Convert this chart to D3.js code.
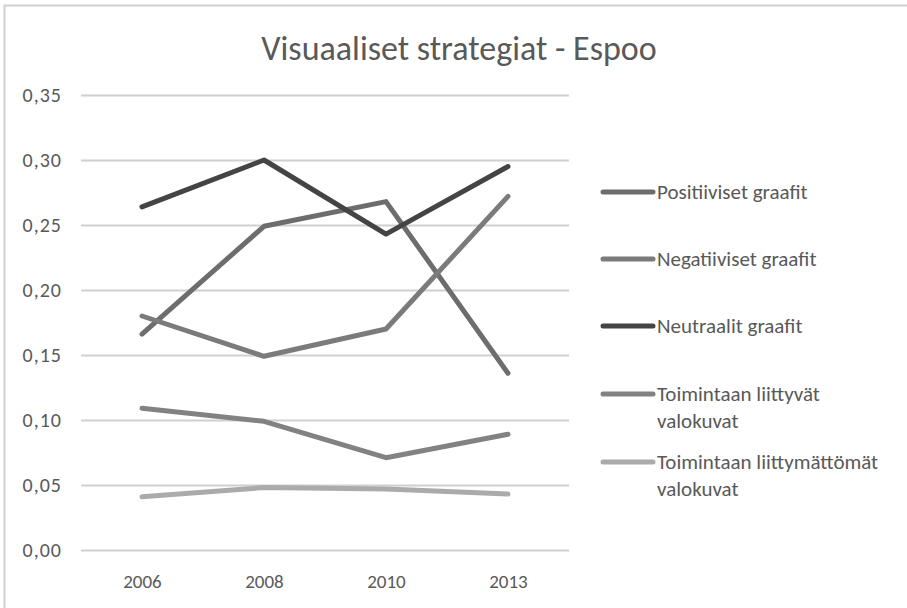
<!DOCTYPE html>
<html>
<head>
<meta charset="utf-8">
<script src="https://cdn.jsdelivr.net/npm/d3@7"></script>
<style>
  body { margin: 0; background: #fff; }
  text { font-family: Carlito, Lato, "Open Sans", sans-serif; fill: #595959; }
</style>
</head>
<body>
<div id="chart"></div>
<script>
// data
var years = ["2006", "2008", "2010", "2013"];
var positiiviset = [0.166, 0.249, 0.268, 0.136];
var negatiiviset = [0.180, 0.149, 0.170, 0.272];
var neutraalit = [0.264, 0.300, 0.243, 0.295];
var toimintaanLiittyvat = [0.109, 0.099, 0.071, 0.089];
var toimintaanLiittymattomat = [0.041, 0.048, 0.047, 0.043];
var yTicks = [0, 0.05, 0.10, 0.15, 0.20, 0.25, 0.30, 0.35];

var series = [
  {name: ["Positiiviset graafit"], values: positiiviset, color: "#6d6d6d"},
  {name: ["Negatiiviset graafit"], values: negatiiviset, color: "#7b7b7b"},
  {name: ["Neutraalit graafit"], values: neutraalit, color: "#444444"},
  {name: ["Toimintaan liittyvät", "valokuvat"], values: toimintaanLiittyvat, color: "#828282"},
  {name: ["Toimintaan liittymättömät", "valokuvat"], values: toimintaanLiittymattomat, color: "#ababab"}
];

var W = 907, H = 608;
var margin = {top: 95, left: 81, right: 338, bottom: 58};
var width = W - margin.left - margin.right,
    height = H - margin.top - margin.bottom;

var svg = d3.select("#chart").append("svg")
    .attr("width", W)
    .attr("height", H);

// outer frame
svg.append("rect")
    .attr("x", 4.5).attr("y", 5.5)
    .attr("width", W + 10).attr("height", H + 10)
    .attr("fill", "none")
    .attr("stroke", "#d0d0d0")
    .attr("stroke-width", 2);

svg.append("text")
    .attr("x", 459)
    .attr("y", 60)
    .attr("text-anchor", "middle")
    .attr("font-size", "34px")
    .text("Visuaaliset strategiat - Espoo");

var g = svg.append("g")
    .attr("transform", "translate(" + margin.left + "," + margin.top + ")");

var x = d3.scalePoint()
    .domain(years)
    .range([0, width])
    .padding(0.5);

var y = d3.scaleLinear()
    .domain([0, 0.35])
    .range([height, 0]);

var fmt = function(d) { return d3.format(".2f")(d).replace(".", ","); };

// y axis with gridlines
var yAxis = g.append("g")
    .call(d3.axisLeft(y).tickValues(yTicks).tickFormat(fmt).tickSize(-width).tickPadding(19));
yAxis.select(".domain").remove();
yAxis.selectAll("line").attr("stroke", "#d0d0d0").attr("stroke-width", 2);
yAxis.selectAll("text").attr("font-size", "20px").attr("letter-spacing", "1px").attr("fill", "#595959");

// x axis
var xAxis = g.append("g")
    .attr("transform", "translate(0," + height + ")")
    .call(d3.axisBottom(x).tickSize(0).tickPadding(25));
xAxis.select(".domain").remove();
xAxis.selectAll("text").attr("font-size", "19px").attr("fill", "#595959");

var line = d3.line()
    .x(function(d, i) { return x(years[i]); })
    .y(function(d) { return y(d); });

g.selectAll(".series")
  .data(series)
  .enter().append("path")
    .attr("class", "series")
    .attr("d", function(d) { return line(d.values); })
    .attr("fill", "none")
    .attr("stroke", function(d) { return d.color; })
    .attr("stroke-width", 5)
    .attr("stroke-linecap", "round")
    .attr("stroke-linejoin", "round");

// legend
var legendY = [192, 259, 326, 394, 462];
var legend = svg.selectAll(".legend")
  .data(series)
  .enter().append("g")
    .attr("class", "legend")
    .attr("transform", function(d, i) { return "translate(603," + legendY[i] + ")"; });

legend.append("line")
    .attr("x1", 0).attr("x2", 50)
    .attr("stroke", function(d) { return d.color; })
    .attr("stroke-width", 5)
    .attr("stroke-linecap", "round");

legend.each(function(d) {
  var t = d3.select(this).append("text")
      .attr("x", 54)
      .attr("y", 7)
      .attr("font-size", "21px");
  d.name.forEach(function(s, j) {
    t.append("tspan").attr("x", 54).attr("dy", j === 0 ? 0 : 27).text(s);
  });
});
</script>
</body>
</html>
